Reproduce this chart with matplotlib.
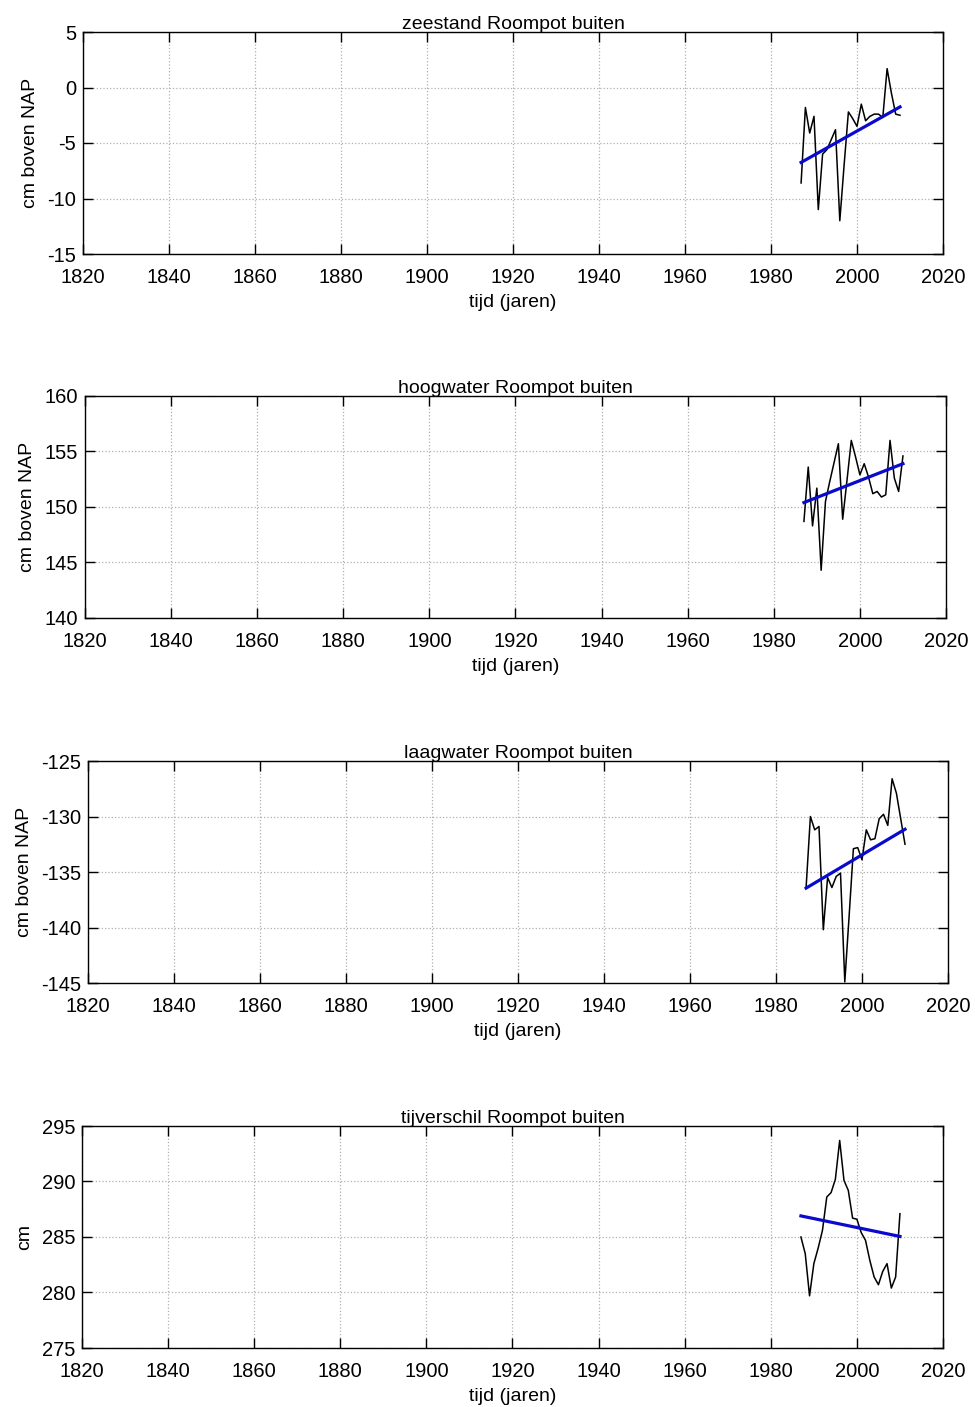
import matplotlib.pyplot as plt
import numpy as np

plt.rcParams['font.family'] = ['Liberation Sans', 'DejaVu Sans']
plt.rcParams['axes.unicode_minus'] = False

years = list(range(1987, 2011))

zeestand = [-8.6, -1.8, -4.1, -2.6, -11.0, -6.0, -5.6, -4.7, -3.8, -12.0,
            -7.0, -2.2, -2.8, -3.5, -1.5, -3.0, -2.6, -2.4, -2.4, -2.7,
            1.7, -0.5, -2.4, -2.5]
hoogwater = [148.7, 153.6, 148.3, 151.7, 144.3, 150.5, 152.3, 154.0, 155.7, 148.9,
             152.4, 156.0, 154.5, 152.9, 153.9, 152.7, 151.2, 151.4, 150.9, 151.1,
             156.0, 152.6, 151.4, 154.6]
laagwater = [-136.4, -130.0, -131.2, -130.9, -140.2, -135.5, -136.4, -135.4, -135.1, -144.9,
             -139.0, -132.9, -132.8, -133.9, -131.2, -132.1, -132.0, -130.2, -129.8, -130.8,
             -126.6, -127.9, -130.2, -132.5]
tijverschil = [285.0, 283.5, 279.7, 282.6, 284.0, 285.6, 288.6, 289.0, 290.2, 293.7,
               290.1, 289.2, 286.7, 286.6, 285.4, 284.7, 282.9, 281.4, 280.7, 281.9,
               282.6, 280.4, 281.4, 287.1]

# trend line end values (1987, 2010)
trend_years = [1987, 2010]
trend_zeestand = [-6.75, -1.75]
trend_hoogwater = [150.4, 153.9]
trend_laagwater = [-136.45, -131.15]
trend_tijverschil = [286.9, 285.05]

titles = ['zeestand Roompot buiten', 'hoogwater Roompot buiten',
          'laagwater Roompot buiten', 'tijverschil Roompot buiten']
ylabels = ['cm boven NAP', 'cm boven NAP', 'cm boven NAP', 'cm']
ylims = [(-15, 5), (140, 160), (-145, -125), (275, 295)]
series = [zeestand, hoogwater, laagwater, tijverschil]
trends = [trend_zeestand, trend_hoogwater, trend_laagwater, trend_tijverschil]
xticks = list(range(1820, 2021, 20))

W, H = 975, 1407
# axes boxes in pixels: left, right, top, bottom
boxes = [(83, 943, 32, 254), (85, 946, 396, 618),
         (88, 948, 761, 983), (82, 943, 1126, 1348)]

fig = plt.figure(figsize=(W / 100, H / 100), dpi=100)

for i in range(4):
    l, r, t, b = boxes[i]
    ax = fig.add_axes([l / W, 1 - b / H, (r - l) / W, (b - t) / H])
    ax.plot(years, series[i], color='black', lw=1.1)
    ax.plot(trend_years, trends[i], color='#0a0acc', lw=2.3)
    ax.set_xlim(1820, 2020)
    ax.set_ylim(*ylims[i])
    ax.set_xticks(xticks)
    lo, hi = ylims[i]
    ax.set_yticks(np.arange(lo, hi + 1, 5))
    ax.grid(True, linestyle=':', color='#b0b0b0', lw=0.9)
    ax.tick_params(direction='in', top=True, right=True, length=7,
                   width=1, labelsize=14.5)
    ax.tick_params(axis='x', pad=10)
    ax.tick_params(axis='y', pad=5)
    for s in ax.spines.values():
        s.set_linewidth(1.0)
    ax.set_title(titles[i], fontsize=14, pad=2)
    ax.set_xlabel('tijd (jaren)', fontsize=14, labelpad=5)
    ax.set_ylabel(ylabels[i], fontsize=14, labelpad=6)

fig.savefig('out.png', dpi=100)
